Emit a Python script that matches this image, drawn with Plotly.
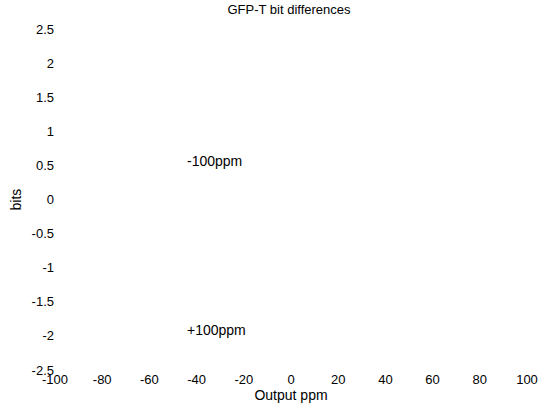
import plotly.graph_objects as go

# Tick values and labels
x_ticks = [-100, -80, -60, -40, -20, 0, 20, 40, 60, 80, 100]
x_tick_labels = ["-100", "-80", "-60", "-40", "-20", "0", "20", "40", "60", "80", "100"]
y_ticks = [2.5, 2, 1.5, 1, 0.5, 0, -0.5, -1, -1.5, -2, -2.5]
y_tick_labels = ["2.5", "2", "1.5", "1", "0.5", "0", "-0.5", "-1", "-1.5", "-2", "-2.5"]

# Text labels in the plot
label_texts = ["-100ppm", "+100ppm"]
label_x = [-45, -45]
label_y = [0.56, -1.92]

title_text = "GFP-T bit differences"
x_title = "Output ppm"
y_title = "bits"

font_family = "Liberation Sans, Arial, Helvetica, sans-serif"

fig = go.Figure()
# empty trace so axes exist
fig.add_trace(go.Scatter(x=[], y=[], mode="markers", showlegend=False))

for t, xx, yy in zip(label_texts, label_x, label_y):
    fig.add_annotation(x=xx, y=yy, text=t, showarrow=False, xanchor="left",
                       yanchor="middle", font=dict(size=14, color="black"))

fig.update_layout(
    width=539, height=407,
    margin=dict(l=55, r=12, t=29, b=37),
    paper_bgcolor="white", plot_bgcolor="white",
    font=dict(family=font_family, size=13, color="black"),
    title=dict(text=title_text, x=289/539, xref="container", xanchor="center",
               y=1 - 9/407, yref="container", yanchor="middle",
               font=dict(size=13, color="black")),
    showlegend=False,
)
fig.update_xaxes(range=[-100, 100], tickmode="array", tickvals=x_ticks,
                 ticktext=x_tick_labels, showgrid=False, zeroline=False,
                 showline=False, ticks="", automargin=False,
                 title=dict(text=x_title, standoff=2, font=dict(size=14)),
                 tickfont=dict(size=13))
fig.update_yaxes(range=[-2.5, 2.5], tickmode="array", tickvals=y_ticks,
                 ticktext=y_tick_labels, showgrid=False, zeroline=False,
                 showline=False, ticks="", automargin=False,
                 title=dict(text=y_title, standoff=6, font=dict(size=14)),
                 tickfont=dict(size=13))

fig.write_html("out.html", config={"displayModeBar": False},
               post_script="document.body.style.margin='0';")
